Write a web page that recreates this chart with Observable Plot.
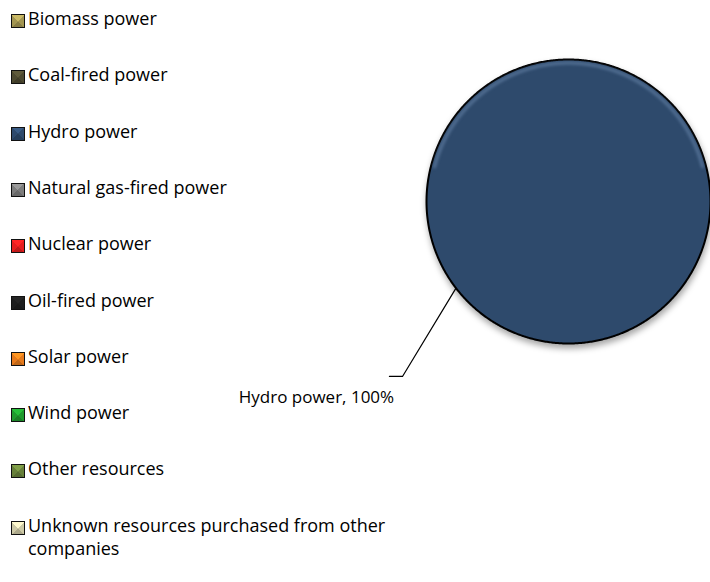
<!DOCTYPE html>
<html>
<head>
<meta charset="utf-8">
<script src="https://cdn.jsdelivr.net/npm/d3@7"></script>
<script src="https://cdn.jsdelivr.net/npm/@observablehq/plot@0.6"></script>
<style>
  body { margin: 0; background: #fff; }
  #wrap { position: relative; width: 710px; height: 582px; overflow: hidden; font-family: "Open Sans", sans-serif; }
  #chart { position: absolute; left: 0; top: 0; }
  #legend { position: absolute; left: 0; top: 0; width: 430px; height: 582px; }
  .item { position: absolute; left: 11px; width: 410px; display: flex; align-items: flex-start; font-size: 18px; line-height: 23px; color: #000; }
  .sw { width: 12px; height: 12px; border: 1.5px solid #111; margin-top: 7px; margin-right: 3px; flex: none; }
  .lbl { width: 372px; }
</style>
</head>
<body>
<div id="wrap">
  <div id="chart"></div>
  <div id="legend"></div>
</div>
<script>
// ---- data ----
const categories = [
  "Biomass power",
  "Coal-fired power",
  "Hydro power",
  "Natural gas-fired power",
  "Nuclear power",
  "Oil-fired power",
  "Solar power",
  "Wind power",
  "Other resources",
  "Unknown resources purchased from other companies"
];
const shares = [0, 0, 100, 0, 0, 0, 0, 0, 0, 0];
const colors = ["#a39652", "#4d4930", "#2e4a6c", "#7d7d7d", "#e61e1e", "#1e1e1e", "#e67a1c", "#1f9a2e", "#67803a", "#cdc9a6"];

// ---- build pie geometry via d3.pie ----
const rows = categories.map((name, i) => ({name, share: shares[i]}));
const total = d3.sum(shares);
const arcs = d3.pie().sort(null).value(d => d.share)(rows);
const piePts = [];
for (const a of arcs) {
  if (a.endAngle - a.startAngle <= 0) continue;
  const span = a.endAngle - a.startAngle;
  const full = span >= 2 * Math.PI - 1e-9;
  const steps = Math.max(2, Math.ceil(span / (2 * Math.PI) * 720));
  const pts = [];
  if (!full) pts.push({name: a.data.name, x: 0, y: 0});
  for (let k = 0; k <= steps; k++) {
    const t = a.startAngle + span * k / steps;
    pts.push({name: a.data.name, x: Math.sin(t), y: Math.cos(t)});
  }
  if (!full) pts.push({name: a.data.name, x: 0, y: 0});
  piePts.push(...pts);
}

// bevel highlight along the upper rim of the pie (decoration)
const rimPts = [];
const rimHalf = Math.acos(0.25);
for (let k = 0; k <= 300; k++) {
  const t = -rimHalf + 2 * rimHalf * k / 300;
  rimPts.push({x: 0.975 * Math.sin(t), y: 0.975 * Math.cos(t)});
}

// data label (moved label with leader line, in unit-circle coordinates)
const main = arcs.find(a => a.data.share > 0);
const labelText = `${main.data.name}, ${d3.format(".0%")(main.data.share / total)}`;
const leaderAngle = 232.4 * Math.PI / 180;
const leader = [
  {x: Math.sin(leaderAngle), y: Math.cos(leaderAngle)},
  {x: -1.169, y: -1.232},
  {x: -1.261, y: -1.232}
];
const labelPos = [{x: -1.775, y: -1.38, text: labelText}];

const plot = Plot.plot({
  width: 710,
  height: 582,
  marginLeft: 426,
  marginRight: 0,
  marginTop: 59,
  marginBottom: 239,
  x: {domain: [-1, 1], axis: null},
  y: {domain: [-1, 1], axis: null},
  color: {domain: categories, range: colors},
  style: {fontFamily: "Open Sans, sans-serif", background: "transparent", overflow: "visible"},
  marks: [
    Plot.line(piePts, {x: "x", y: "y", z: "name", fill: "name", stroke: "#000", strokeWidth: 2, curve: "linear"}),
    Plot.line(rimPts, {x: "x", y: "y", stroke: "#7a97bd", strokeWidth: 3, strokeOpacity: 0.5, curve: "linear"}),
    Plot.line(leader, {x: "x", y: "y", stroke: "#000", strokeWidth: 1.2}),
    Plot.text(labelPos, {x: "x", y: "y", text: "text", fontSize: 17, fill: "#000"})
  ]
});
const lineGroups = d3.select(plot).selectAll('g[aria-label="line"]');
lineGroups.filter((d, i) => i === 0).style("filter", "drop-shadow(1px 4px 3px rgba(0,0,0,0.35))");
lineGroups.filter((d, i) => i === 1).style("filter", "blur(1.5px)");
document.getElementById("chart").appendChild(plot);

// ---- legend ----
const legend = d3.select("#legend");
categories.forEach((name, i) => {
  const c = d3.color(colors[i]);
  const light = c.brighter(0.6).formatHex();
  const dark = c.darker(0.5).formatHex();
  const item = legend.append("div").attr("class", "item").style("top", (7 + i * 56.3) + "px");
  item.append("div").attr("class", "sw")
    .style("background", `conic-gradient(from -45deg, ${light} 0deg 90deg, ${c.formatHex()} 90deg 180deg, ${dark} 180deg 270deg, ${c.formatHex()} 270deg 360deg)`);
  item.append("div").attr("class", "lbl").text(name);
});
</script>
</body>
</html>
